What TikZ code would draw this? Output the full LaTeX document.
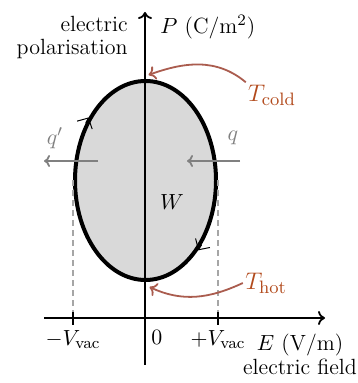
\documentclass[tikz,border=0pt,11pt]{standalone}
\usepackage{tikz}
\usetikzlibrary{arrows.meta,positioning,shapes.geometric}
\definecolor{heatline}{RGB}{170,92,78}
\definecolor{heattext}{RGB}{178,74,28}

\begin{document}
\begin{tikzpicture}[x=0.5pt, y=0.5pt,
  cycle/.style={ellipse, draw=black, line width=2pt, fill=black!15,
    minimum width=70.5pt, minimum height=99.5pt, inner sep=0pt},
  axis/.style={-{To[length=3.5pt, width=7pt]}, line width=0.9pt},
  heat/.style={-{To[length=3.5pt, width=7pt]}, heatline, line width=0.9pt},
  flow/.style={-{To[length=3pt, width=6pt]}, black!50, line width=0.9pt},
  guide/.style={black!35, line width=0.6pt, dash pattern=on 3pt off 2pt},
  sense/.style={-{Straight Barb[length=4pt, width=8.5pt, line width=0.5pt]}, line width=0.5pt},
  lbl/.style={font=\fontsize{11}{11.5}\selectfont, inner sep=1pt},
  temp/.style={font=\fontsize{12.5}{13}\selectfont, inner sep=1pt, text=heattext}]
\useasboundingbox (0,0) rectangle (357,383);
\node[cycle] (loop) at (145.5,202.5) {};
\coordinate (o) at (145,65);
\coordinate (xl) at (44,65);
\coordinate (xr) at (325,65);
\coordinate (yb) at (145,18);
\coordinate (yt) at (145,371);
\coordinate (vl) at (loop.west |- o);
\coordinate (vr) at (loop.east |- o);
\draw[guide] (loop.west) -- (vl);
\draw[guide] (loop.east) -- (vr);
\draw[axis] (xl) -- (xr);
\draw[axis] (yb) -- (yt);
\draw[line width=0.9pt] ([yshift=-3.5pt]vl) -- ([yshift=3pt]vl);
\draw[line width=0.9pt] ([yshift=-3.5pt]vr) -- ([yshift=3pt]vr);
\draw[sense] (loop.136) -- (loop.132);
\draw[sense] (loop.311) -- (loop.307);
\node[lbl, below=5pt of vl] (mv) {$-V_{\mathrm{vac}}$};
\node[lbl, below=5pt of vr] (pv) {$+V_{\mathrm{vac}}$};
\node[lbl, below right=5pt and 2pt of o] (zero) {$0$};
\node[lbl] (elab) at (300,38) {$E$ (V/m)};
\node[lbl, below=-1pt of elab] (etxt) {electric field};
\node[lbl, anchor=west] (plab) at (158,356) {$P$ (C/m$^2$)};
\node[lbl, align=right, anchor=north east] (ptxt) at (130,369) {electric\\polarisation};
\node[lbl] (w) at (172,181) {$W$};
\node[temp] (tcold) at (272,288) {$T_{\mathrm{cold}}$};
\node[temp] (thot) at (266,100) {$T_{\mathrm{hot}}$};
\draw[heat] (tcold.north west) to[out=140, in=20] ([xshift=1.5pt, yshift=2pt]loop.north);
\draw[heat] (thot.west) to[out=205, in=-25] ([xshift=2pt, yshift=-2.5pt]loop.south);
\node[lbl, text=black!50] (q) at (233,245) {$q$};
\node[lbl, text=black!50] (qp) at (55,245) {$q'$};
\coordinate (qa) at (240,222);
\coordinate (qb) at (187,222);
\coordinate (qpa) at (98,222);
\coordinate (qpb) at (44,222);
\draw[flow] (qa) -- (qb);
\draw[flow] (qpa) -- (qpb);
\end{tikzpicture}
\end{document}
